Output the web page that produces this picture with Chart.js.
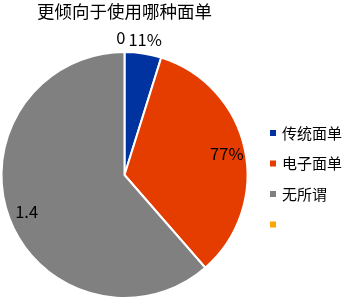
<!DOCTYPE html>
<html>
<head>
<meta charset="utf-8">
<script src="https://cdn.jsdelivr.net/npm/chart.js@4"></script>
<style>
  html, body { margin:0; padding:0; background:#fff; }
  #wrap { width:345px; height:307px; position:relative; }
</style>
</head>
<body>
<div id="wrap"><canvas id="c"></canvas></div>
<script>
const TITLE = '更倾向于使用哪种面单';
const categories = ['传统面单', '电子面单', '无所谓', ''];
const values = [0.11, 0.77, 1.4, 0];
const labelTexts = ['11%', '77%', '1.4', '0'];
const colors = ['#0032a0', '#e53c00', '#808080', '#ffa500'];

const FONT = '"Noto Sans CJK SC", "Noto Sans", sans-serif';

// title centered over the pie
const titlePlugin = {
  id:'titlePlugin',
  afterDraw(chart){
    const ctx = chart.ctx, a = chart.chartArea;
    ctx.save();
    ctx.font = '17.5px ' + FONT;
    ctx.fillStyle = '#000';
    ctx.textAlign = 'center';
    ctx.textBaseline = 'middle';
    ctx.fillText(TITLE, (a.left + a.right) / 2, 11);
    ctx.restore();
  }
};

// slice value labels: inside for big slices, outside for small ones
const sliceLabels = {
  id:'sliceLabels',
  afterDatasetsDraw(chart){
    const ctx = chart.ctx;
    const meta = chart.getDatasetMeta(0);
    ctx.save();
    ctx.font = '16.5px ' + FONT;
    ctx.fillStyle = '#000';
    ctx.textBaseline = 'middle';
    meta.data.forEach((arc, i) => {
      const p = arc.getProps(['x','y','startAngle','endAngle','outerRadius'], true);
      const mid = (p.startAngle + p.endAngle) / 2;
      const span = p.endAngle - p.startAngle;
      const r = span > 0.5 ? p.outerRadius * 0.85 : p.outerRadius + 14;
      let x = p.x + Math.cos(mid) * r;
      ctx.textAlign = 'center';
      if(span === 0){ ctx.textAlign = 'right'; x += 1; } // empty slice sits left of the top
      ctx.fillText(labelTexts[i], x, p.y + Math.sin(mid) * r);
    });
    ctx.restore();
  }
};

// legend on the right
const sideLegend = {
  id:'sideLegend',
  afterDraw(chart){
    const ctx = chart.ctx;
    ctx.save();
    ctx.font = '15px ' + FONT;
    ctx.textBaseline = 'middle';
    categories.forEach((name, i) => {
      const y = 133 + i * 30.5;
      ctx.fillStyle = colors[i];
      ctx.fillRect(270, y - 3, 6, 6);
      ctx.fillStyle = '#000';
      ctx.fillText(name, 282, y);
    });
    ctx.restore();
  }
};

new Chart(document.getElementById('c'), {
  type:'pie',
  data:{
    labels: categories,
    datasets:[{
      data: values,
      backgroundColor: colors,
      borderColor:'#fff',
      borderWidth:2
    }]
  },
  options:{
    responsive:true,
    maintainAspectRatio:false,
    animation:false,
    layout:{ padding:{ top:51, bottom:8, left:0, right:96 } },
    plugins:{
      legend:{ display:false },
      tooltip:{ enabled:false }
    }
  },
  plugins:[titlePlugin, sliceLabels, sideLegend]
});
</script>
</body>
</html>
